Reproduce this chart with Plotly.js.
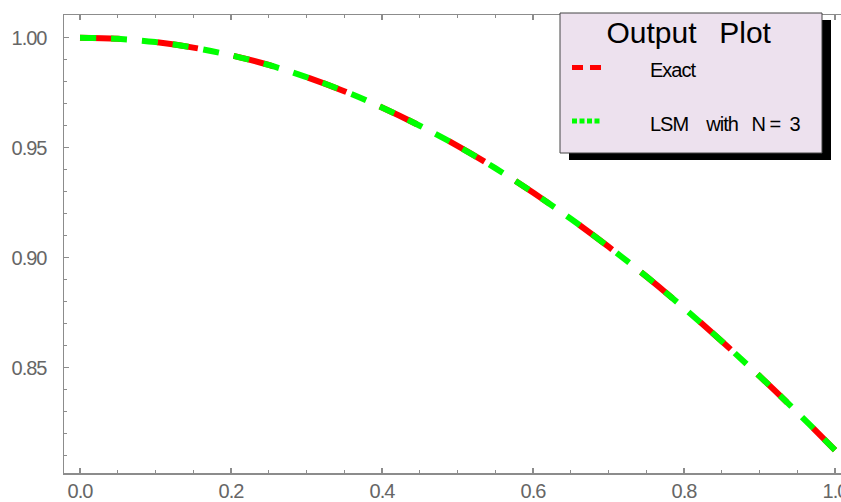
<!DOCTYPE html>
<html>
<head>
<meta charset="utf-8">
<script src="https://cdn.plot.ly/plotly-3.0.1.min.js"></script>
<style>
  html, body { margin: 0; padding: 0; background: #fff; }
  #chart { width: 841px; height: 502px; }
  .xtick text, .ytick text { letter-spacing: -1px; }
  .annotation-text { letter-spacing: -1px; }
  .annotation[data-index="0"] .annotation-text { letter-spacing: 0px; }
</style>
</head>
<body>
<div id="chart"></div>
<script>
// ---- data ----
const xValues = [0, 0.05, 0.1, 0.15, 0.2, 0.25, 0.3, 0.35, 0.4, 0.45, 0.5,
                 0.55, 0.6, 0.65, 0.7, 0.75, 0.8, 0.85, 0.9, 0.95, 1.0];
const exactValues = [1.0000, 0.9995, 0.9980, 0.9955, 0.9920, 0.9876, 0.9821, 0.9757, 0.9683, 0.9600, 0.9508,
                     0.9407, 0.9296, 0.9177, 0.9050, 0.8915, 0.8771, 0.8620, 0.8462, 0.8297, 0.8125];
const lsmValues   = [1.0000, 0.9995, 0.9980, 0.9955, 0.9920, 0.9876, 0.9821, 0.9757, 0.9683, 0.9600, 0.9508,
                     0.9407, 0.9296, 0.9177, 0.9050, 0.8915, 0.8771, 0.8620, 0.8462, 0.8297, 0.8125];
const seriesNames = ["Exact", "LSM with N = 3"];
const legendTitle = "Output Plot";
const yTickVals = [0.85, 0.90, 0.95, 1.00];
const yTickText = ["0.85", "0.90", "0.95", "1.00"];
const xTickVals = [0.0, 0.2, 0.4, 0.6, 0.8, 1.0];
const xTickText = ["0.0", "0.2", "0.4", "0.6", "0.8", "1.0"];

// ---- layout helpers (pixel -> paper) ----
const L = 64, R = 841, T = 15, B = 473;
const px = v => (v - L) / (R - L);
const py = v => (B - v) / (B - T);
const NB = "\u00A0";

const axisColor = "#8c8c8c";
const labelColor = "#666666";
const fam = "Liberation Sans, Arial, sans-serif";

const traces = [
  { x: xValues, y: exactValues, type: "scatter", mode: "lines", name: seriesNames[0],
    line: { color: "#ff0000", width: 6, dash: "41px,36.5px", shape: "spline" }, showlegend: false, hoverinfo: "skip" },
  { x: xValues, y: lsmValues, type: "scatter", mode: "lines", name: seriesNames[1],
    line: { color: "#00ff00", width: 6, dash: "16px,15px", shape: "spline" }, showlegend: false, hoverinfo: "skip" }
];

const titleText = legendTitle.replace(" ", NB + NB + "\u2009");
const lsmText = seriesNames[1].replace("LSM ", "LSM" + NB.repeat(4))
                              .replace("with ", "with" + NB.repeat(3))
                              .replace("= ", "=" + NB + NB).replace(/ /g, NB);

const layout = {
  width: 841, height: 502,
  margin: { l: L, r: 841 - R, t: T, b: 502 - B, pad: 0 },
  paper_bgcolor: "#ffffff", plot_bgcolor: "#ffffff",
  showlegend: false,
  xaxis: {
    range: [(L - 80) / 755, (R - 80) / 755],
    tickvals: xTickVals, ticktext: xTickText,
    ticks: "inside", ticklen: 5, tickwidth: 1.2, tickcolor: axisColor,
    minor: { dtick: 0.05, tick0: 0, ticks: "inside", ticklen: 3, tickwidth: 1, tickcolor: axisColor },
    showline: true, linecolor: axisColor, linewidth: 1.5, mirror: "ticks",
    showgrid: false, zeroline: false,
    tickfont: { family: fam, size: 20, color: labelColor },
    ticklabelstandoff: -1,
    ticklabeloverflow: "allow"
  },
  yaxis: {
    range: [1 - (B - 37.7) / 2200, 1 + (37.7 - T) / 2200],
    tickvals: yTickVals, ticktext: yTickText,
    ticks: "inside", ticklen: 5, tickwidth: 1.2, tickcolor: axisColor,
    minor: { dtick: 0.01, tick0: 0, ticks: "inside", ticklen: 3, tickwidth: 1, tickcolor: axisColor },
    showline: true, linecolor: axisColor, linewidth: 1.5, mirror: false,
    showgrid: false, zeroline: false,
    tickfont: { family: fam, size: 20, color: labelColor },
    ticklabelstandoff: 12
  },
  shapes: [
    { type: "rect", xref: "paper", yref: "paper", x0: px(569), x1: px(831), y0: py(160), y1: py(20),
      fillcolor: "#000000", line: { width: 0 }, layer: "above" },
    { type: "rect", xref: "paper", yref: "paper", x0: px(560), x1: px(822), y0: py(153), y1: py(13),
      fillcolor: "#ede1ee", line: { color: "#444444", width: 1 }, layer: "above" },
    { type: "line", xref: "paper", yref: "paper", x0: px(572), x1: px(602), y0: py(67.5), y1: py(67.5),
      line: { color: "#ff0000", width: 5, dash: "11px,7px" }, layer: "above" },
    { type: "line", xref: "paper", yref: "paper", x0: px(572), x1: px(602), y0: py(121), y1: py(121),
      line: { color: "#00ff00", width: 5, dash: "5px,2.5px" }, layer: "above" }
  ],
  annotations: [
    { xref: "paper", yref: "paper", x: px(689), y: py(33), xanchor: "center", yanchor: "middle",
      text: titleText, showarrow: false,
      font: { family: fam, size: 30, color: "#000000" } },
    { xref: "paper", yref: "paper", x: px(648), y: py(70), xanchor: "left", yanchor: "middle",
      text: seriesNames[0], showarrow: false,
      font: { family: fam, size: 20, color: "#000000" } },
    { xref: "paper", yref: "paper", x: px(648), y: py(124), xanchor: "left", yanchor: "middle",
      text: lsmText, showarrow: false,
      font: { family: fam, size: 20, color: "#000000" } }
  ]
};

Plotly.newPlot("chart", traces, layout, { displayModeBar: false, staticPlot: true });
</script>
</body>
</html>
